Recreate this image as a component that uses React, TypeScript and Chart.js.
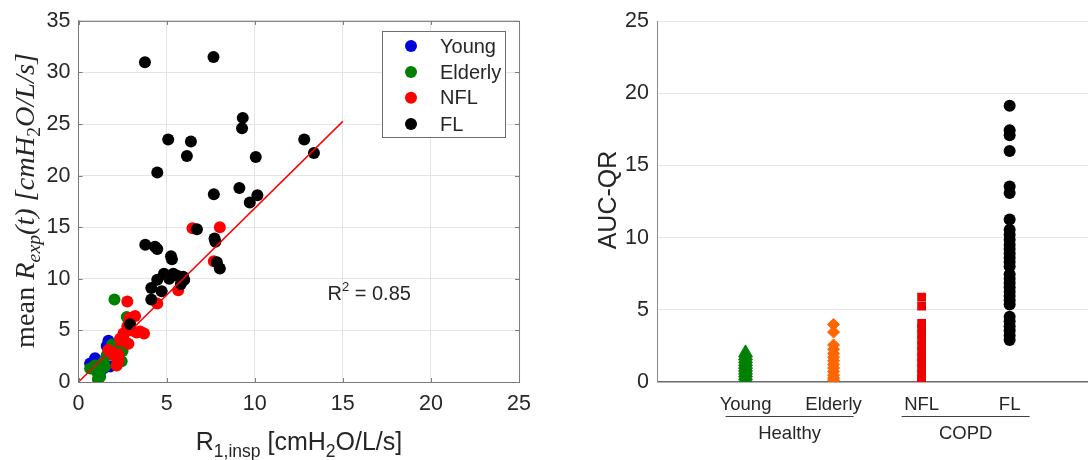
import React, { useEffect, useRef } from "react";
import { Chart, registerables } from "chart.js";

Chart.register(...registerables);

// ---------- Left panel data ----------
const youngX = [1.7, 0.94, 0.66, 1.79, 1.41, 2.2, 1.2, 1.0, 1.6];
const youngY = [4.0, 2.3, 1.8, 1.5, 1.3, 3.7, 0.6, 2.0, 3.5];
const elderlyX = [2.04, 2.74, 2.45, 0.66, 1.04, 1.23, 1.41, 1.89, 2.26, 1.6, 0.94, 1.2, 1.5, 2.5, 1.1];
const elderlyY = [8.0, 6.3, 2.0, 1.3, 1.0, 0.5, 1.95, 3.6, 3.2, 2.6, 1.6, 0.8, 1.5, 3.0, 0.3];
const nflX = [6.47, 8.02, 7.68, 5.66, 4.47, 2.77, 3.21, 2.9, 2.77, 3.02, 3.3, 3.72, 2.55, 2.83, 2.55, 1.7, 1.98, 2.26, 2.17, 1.89, 2.26, 3.5, 2.4, 2.36];
const nflY = [14.9, 15.0, 11.7, 8.9, 7.6, 7.8, 6.4, 6.2, 5.4, 5.0, 4.8, 4.7, 4.4, 3.7, 4.7, 3.1, 2.6, 2.1, 1.6, 2.9, 2.7, 4.9, 4.0, 4.2];
const flX = [3.77, 7.66, 9.32, 9.28, 5.09, 6.38, 6.15, 10.06, 12.81, 13.36, 4.47, 9.13, 7.68, 10.15, 9.72, 6.72, 7.77, 7.72, 7.85, 8.02, 3.79, 4.34, 4.47, 5.25, 5.3, 4.85, 5.38, 5.94, 4.47, 5.15, 5.81, 4.13, 4.72, 4.13, 2.93, 5.6, 6.0];
const flY = [31.0, 31.5, 25.6, 24.6, 23.5, 23.3, 21.9, 21.8, 23.5, 22.2, 20.3, 18.8, 18.2, 18.1, 17.4, 14.8, 13.6, 13.9, 11.6, 11.0, 13.3, 13.1, 12.9, 12.2, 11.9, 10.5, 10.5, 10.2, 9.9, 10.0, 9.5, 9.1, 8.8, 8.0, 5.6, 10.3, 9.9];
const fitX = [0, 15];
const fitY = [0, 25.26];
const leftXTicks = [0, 5, 10, 15, 20, 25];
const leftYTicks = [0, 5, 10, 15, 20, 25, 30, 35];
const legendLabels = ["Young", "Elderly", "NFL", "FL"];
const r2Text = "0.85";

// ---------- Right panel data ----------
const categories = ["Young", "Elderly", "NFL", "FL"];
const groups = ["Healthy", "COPD"];
const aucYoung = [2.0, 1.8, 1.6, 1.4, 1.2, 1.0, 0.8, 0.6, 0.4, 0.2, 0.05];
const aucElderly = [3.97, 3.44, 2.55, 2.25, 1.95, 1.7, 1.45, 1.2, 0.95, 0.7, 0.45, 0.25, 0.1];
const aucNfl = [5.87, 5.25, 4.04, 3.7, 3.3, 2.9, 2.5, 2.1, 1.7, 1.3, 0.9, 0.55, 0.2, 0.16];
const aucFl = [19.15, 17.45, 17.1, 16.0, 13.55, 13.1, 11.25, 10.55, 10.2, 9.85, 9.5, 9.2, 8.9, 8.6, 8.3, 8.0, 7.45, 7.15, 6.85, 6.55, 6.25, 5.95, 5.65, 5.35, 4.5, 4.2, 3.85, 3.55, 3.2, 2.9];
const rightYTicks = [0, 5, 10, 15, 20, 25];

const SANS = '"Liberation Sans", Arial, Helvetica, sans-serif';
const SERIF = '"Liberation Serif", "Times New Roman", serif';
const TXT = "#262626";
const GRID = "#e4e4e4";
const AXIS = "#7a7a7a";
const C_YOUNG = "#0000dd";
const C_ELDER = "#008000";
const C_NFL = "#ff0000";
const C_FL = "#000000";

const pts = (xs: number[], ys: number[]) => xs.map((x, i) => ({ x, y: ys[i] }));
const colPts = (cat: number, ys: number[]) => ys.map((y) => ({ x: cat, y }));

type Part = { t: string; f: string; dy?: number };

function drawRich(ctx: CanvasRenderingContext2D, parts: Part[], x: number, y: number, align: "center" | "left", rot = 0) {
  ctx.save();
  ctx.translate(x, y);
  ctx.rotate(rot);
  const widths = parts.map((p) => {
    ctx.font = p.f;
    return ctx.measureText(p.t).width;
  });
  const total = widths.reduce((a, b) => a + b, 0);
  let cx = align === "center" ? -total / 2 : 0;
  ctx.textAlign = "left";
  ctx.textBaseline = "alphabetic";
  ctx.fillStyle = TXT;
  parts.forEach((p, i) => {
    ctx.font = p.f;
    ctx.fillText(p.t, cx, p.dy || 0);
    cx += widths[i];
  });
  ctx.restore();
  return total;
}

function measureRich(ctx: CanvasRenderingContext2D, parts: Part[]) {
  let t = 0;
  parts.forEach((p) => {
    ctx.font = p.f;
    t += ctx.measureText(p.t).width;
  });
  return t;
}

const leftDecor = {
  id: "leftDecor",
  afterDraw(chart: any) {
    const { ctx, chartArea: a, scales } = chart;
    ctx.save();
    ctx.strokeStyle = AXIS;
    ctx.lineWidth = 1;
    ctx.beginPath();
    ctx.moveTo(a.left, a.top + 0.5);
    ctx.lineTo(a.right + 0.5, a.top + 0.5);
    ctx.lineTo(a.right + 0.5, a.bottom);
    ctx.stroke();
    ctx.beginPath();
    leftXTicks.forEach((v) => {
      const px = Math.round(scales.x.getPixelForValue(v)) + 0.5;
      ctx.moveTo(px, a.bottom);
      ctx.lineTo(px, a.bottom - 4);
      ctx.moveTo(px, a.top);
      ctx.lineTo(px, a.top + 4);
    });
    leftYTicks.forEach((v) => {
      const py = Math.round(scales.y.getPixelForValue(v)) + 0.5;
      ctx.moveTo(a.left, py);
      ctx.lineTo(a.left + 4, py);
      ctx.moveTo(a.right, py);
      ctx.lineTo(a.right - 4, py);
    });
    ctx.stroke();

    // legend
    const lx0 = 382.5, ly0 = 31.5, lw = 123, lh = 106;
    ctx.fillStyle = "#ffffff";
    ctx.fillRect(lx0, ly0, lw, lh);
    ctx.strokeStyle = "#6e6e6e";
    ctx.strokeRect(lx0, ly0, lw, lh);
    const cols = [C_YOUNG, C_ELDER, C_NFL, C_FL];
    const rows = [46, 72, 97.7, 124];
    legendLabels.forEach((lab, i) => {
      ctx.fillStyle = cols[i];
      ctx.beginPath();
      ctx.arc(411, rows[i], 6, 0, Math.PI * 2);
      ctx.fill();
      ctx.fillStyle = TXT;
      ctx.font = `20px ${SANS}`;
      ctx.textAlign = "left";
      ctx.textBaseline = "middle";
      ctx.fillText(lab, 440, rows[i] + 1);
    });

    drawRich(
      ctx,
      [
        { t: "R", f: `20px ${SANS}` },
        { t: "2", f: `13px ${SANS}`, dy: -9 },
        { t: " = " + r2Text, f: `20px ${SANS}` },
      ],
      327.5,
      300,
      "left"
    );

    drawRich(
      ctx,
      [
        { t: "R", f: `25px ${SANS}` },
        { t: "1,insp", f: `17.5px ${SANS}`, dy: 7 },
        { t: " [cmH", f: `25px ${SANS}` },
        { t: "2", f: `17.5px ${SANS}`, dy: 7 },
        { t: "O/L/s]", f: `25px ${SANS}` },
      ],
      299,
      450,
      "center"
    );

    const mk = (s: number): Part[] => [
      { t: "mean ", f: `${s}px ${SERIF}` },
      { t: "R", f: `italic ${s}px ${SERIF}` },
      { t: "exp", f: `italic ${s * 0.7}px ${SERIF}`, dy: s * 0.22 },
      { t: "(t) [cmH", f: `italic ${s}px ${SERIF}` },
      { t: "2", f: `${s * 0.7}px ${SERIF}`, dy: s * 0.22 },
      { t: "O/L/s]", f: `italic ${s}px ${SERIF}` },
    ];
    const w0 = measureRich(ctx, mk(28));
    const s = (28 * 295) / w0;
    drawRich(ctx, mk(s), 33.5, 200.5, "center", -Math.PI / 2);
    ctx.restore();
  },
};

const rightDecor = {
  id: "rightDecor",
  afterDraw(chart: any) {
    const { ctx, scales } = chart;
    const xs = scales.x;
    ctx.save();
    ctx.fillStyle = TXT;
    ctx.font = `18.5px ${SANS}`;
    ctx.textAlign = "center";
    ctx.textBaseline = "alphabetic";
    categories.forEach((c, i) => {
      ctx.fillText(c, xs.getPixelForValue(i + 1), 409.5);
    });
    ctx.strokeStyle = "#404040";
    ctx.lineWidth = 1;
    groups.forEach((g, gi) => {
      const a = xs.getPixelForValue(gi * 2 + 1);
      const b = xs.getPixelForValue(gi * 2 + 2);
      const mid = (a + b) / 2;
      ctx.beginPath();
      ctx.moveTo(mid - 64, 416.5);
      ctx.lineTo(mid + 64, 416.5);
      ctx.stroke();
      ctx.fillText(g, mid, 438.5);
    });
    ctx.translate(76, 200);
    ctx.rotate(-Math.PI / 2);
    ctx.font = `25px ${SANS}`;
    ctx.textAlign = "center";
    ctx.fillText("AUC-QR", 0, 0);
    ctx.restore();
  },
};

function LeftChart() {
  const ref = useRef<HTMLCanvasElement>(null);
  useEffect(() => {
    if (!ref.current) return;
    const chart = new Chart(ref.current, {
      type: "scatter",
      data: {
        datasets: [
          {
            label: "fit",
            type: "line",
            data: pts(fitX, fitY),
            borderColor: "#ff0000",
            borderWidth: 1.5,
            pointRadius: 0,
            order: 0,
          } as any,
          { label: "FL", data: pts(flX, flY), backgroundColor: C_FL, borderColor: C_FL, borderWidth: 0, pointRadius: 6, order: 1 },
          { label: "NFL", data: pts(nflX, nflY), backgroundColor: C_NFL, borderColor: C_NFL, borderWidth: 0, pointRadius: 6, order: 2 },
          { label: "Elderly", data: pts(elderlyX, elderlyY), backgroundColor: C_ELDER, borderColor: C_ELDER, borderWidth: 0, pointRadius: 6, order: 3 },
          { label: "Young", data: pts(youngX, youngY), backgroundColor: C_YOUNG, borderColor: C_YOUNG, borderWidth: 0, pointRadius: 6, order: 4 },
        ],
      },
      options: {
        responsive: false,
        animation: false,
        devicePixelRatio: 1,
        layout: { autoPadding: false, padding: { top: 18, right: 20, left: 0, bottom: 0 } },
        plugins: { legend: { display: false }, tooltip: { enabled: false } },
        scales: {
          x: {
            type: "linear",
            min: 0,
            max: 25,
            afterBuildTicks: (ax: any) => {
              ax.ticks = leftXTicks.map((v) => ({ value: v }));
            },
            afterFit: (ax: any) => {
              ax.height = 78;
            },
            ticks: { font: { family: SANS, size: 21.5 }, color: TXT, padding: 9, maxRotation: 0 },
            grid: { color: GRID, drawTicks: false },
            border: { color: AXIS, width: 1 },
          },
          y: {
            type: "linear",
            min: 0,
            max: 35,
            afterBuildTicks: (ax: any) => {
              ax.ticks = leftYTicks.map((v) => ({ value: v }));
            },
            afterFit: (ax: any) => {
              ax.width = 78.5;
            },
            ticks: { font: { family: SANS, size: 21.5 }, color: TXT, padding: 8 },
            grid: { color: GRID, drawTicks: false },
            border: { color: AXIS, width: 1 },
          },
        },
      },
      plugins: [leftDecor],
    });
    return () => chart.destroy();
  }, []);
  return <canvas ref={ref} width={540} height={460} style={{ position: "absolute", left: 0, top: 0, width: 540, height: 460 }} />;
}

function RightChart() {
  const ref = useRef<HTMLCanvasElement>(null);
  useEffect(() => {
    if (!ref.current) return;
    const chart = new Chart(ref.current, {
      type: "scatter",
      data: {
        datasets: [
          { label: categories[0], data: colPts(1, aucYoung), pointStyle: "triangle", pointRadius: 8, backgroundColor: "#008000", borderColor: "#008000", borderWidth: 1 },
          { label: categories[1], data: colPts(2, aucElderly), pointStyle: "rectRot", pointRadius: 6, backgroundColor: "#ff6600", borderColor: "#ff6600", borderWidth: 1 },
          { label: categories[2], data: colPts(3, aucNfl), pointStyle: "rect", pointRadius: 6.2, backgroundColor: "#ee0000", borderColor: "#ee0000", borderWidth: 0 },
          { label: categories[3], data: colPts(4, aucFl), pointStyle: "circle", pointRadius: 6, backgroundColor: "#000000", borderColor: "#000000", borderWidth: 0 },
        ],
      },
      options: {
        responsive: false,
        animation: false,
        devicePixelRatio: 1,
        layout: { autoPadding: false, padding: { top: 18.4, right: 0, left: 0, bottom: 0 } },
        plugins: { legend: { display: false }, tooltip: { enabled: false } },
        scales: {
          x: {
            type: "linear",
            min: 0,
            max: 4.89,
            ticks: { display: false },
            grid: { display: false, drawTicks: false },
            border: { color: "#6a6a6a", width: 1.5 },
            afterFit: (ax: any) => {
              ax.height = 78.3;
            },
          },
          y: {
            type: "linear",
            min: 0,
            max: 25,
            afterBuildTicks: (ax: any) => {
              ax.ticks = rightYTicks.map((v) => ({ value: v }));
            },
            afterFit: (ax: any) => {
              ax.width = 117.5;
            },
            ticks: { font: { family: SANS, size: 21.5 }, color: TXT, padding: 8.5 },
            grid: { color: GRID, drawTicks: false },
            border: { color: "#8a8a8a", width: 1 },
          },
        },
      },
      plugins: [rightDecor],
    });
    return () => chart.destroy();
  }, []);
  return <canvas ref={ref} width={548} height={460} style={{ position: "absolute", left: 540, top: 0, width: 548, height: 460 }} />;
}

export default function App() {
  return (
    <div style={{ position: "fixed", left: 0, top: 0, width: 1088, height: 460, background: "#ffffff", overflow: "hidden" }}>
      <LeftChart />
      <RightChart />
    </div>
  );
}
